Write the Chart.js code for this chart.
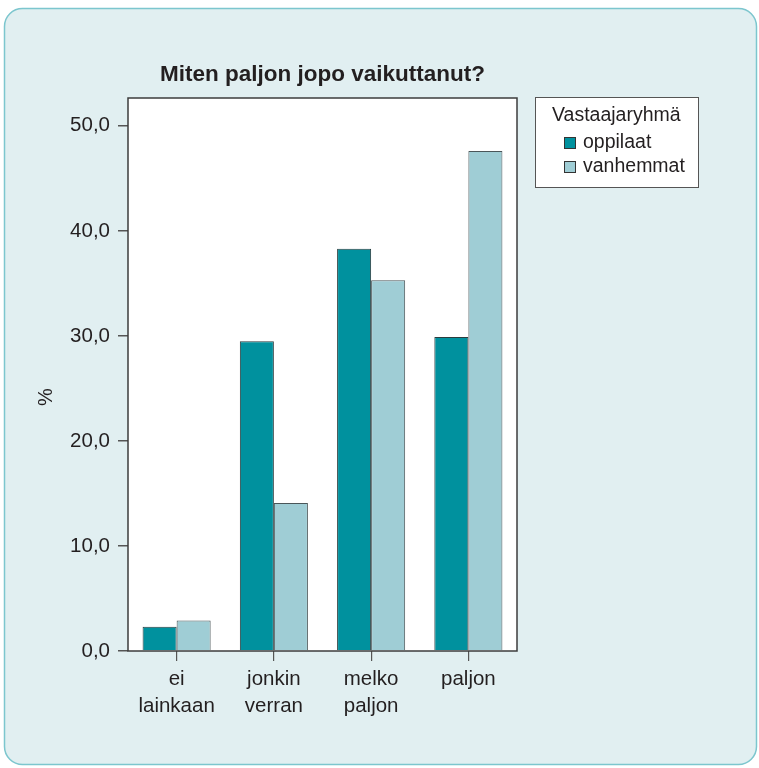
<!DOCTYPE html>
<html>
<head>
<meta charset="utf-8">
<script src="https://cdn.jsdelivr.net/npm/chart.js@4/dist/chart.umd.min.js"></script>
<style>
  html, body { margin: 0; padding: 0; background: #ffffff; }
  #wrap { width: 759px; height: 768px; }
</style>
</head>
<body>
<div id="wrap"><canvas id="c" width="759" height="768"></canvas></div>
<script>
// Response categories (two-line labels) and the share of each respondent group, %
const categories = [["ei", "lainkaan"], ["jonkin", "verran"], ["melko", "paljon"], ["paljon"]];
const oppilaat = [2.3, 29.5, 38.3, 29.9];
const vanhemmat = [2.9, 14.1, 35.3, 47.6];
const yTicks = [0, 10, 20, 30, 40, 50];
const seriesNames = ["oppilaat", "vanhemmat"];
const chartTitle = "Miten paljon jopo vaikuttanut?";
const legendTitle = "Vastaajaryhmä";
const yTitle = "%";

const TEAL = "#00919e";
const LIGHT = "#9fcdd5";
const FONT = "'Liberation Sans', Arial, Helvetica, sans-serif";
const TEXT = "#231f20";

function roundRect(ctx, x, y, w, h, r) {
  ctx.beginPath();
  ctx.moveTo(x + r, y);
  ctx.lineTo(x + w - r, y);
  ctx.arcTo(x + w, y, x + w, y + r, r);
  ctx.lineTo(x + w, y + h - r);
  ctx.arcTo(x + w, y + h, x + w - r, y + h, r);
  ctx.lineTo(x + r, y + h);
  ctx.arcTo(x, y + h, x, y + h - r, r);
  ctx.lineTo(x, y + r);
  ctx.arcTo(x, y, x + r, y, r);
  ctx.closePath();
}

// Panel background, white plot area, frame, title, axis title and legend box
const decor = {
  id: "decor",
  beforeDraw(chart) {
    const ctx = chart.ctx, a = chart.chartArea;
    ctx.save();
    ctx.fillStyle = "#ffffff";
    ctx.fillRect(0, 0, chart.width, chart.height);
    roundRect(ctx, 4.5, 8.5, 752, 756, 18);
    ctx.fillStyle = "#e1eff1";
    ctx.fill();
    ctx.strokeStyle = "#7cc6ce";
    ctx.lineWidth = 1.5;
    ctx.stroke();
    ctx.fillStyle = "#ffffff";
    ctx.fillRect(a.left, a.top, a.right - a.left, a.bottom - a.top);
    ctx.restore();
  },
  afterDatasetsDraw(chart) {
    const ctx = chart.ctx, a = chart.chartArea;
    ctx.save();
    ctx.strokeStyle = "#3c3c3c";
    ctx.lineWidth = 1.5;
    ctx.strokeRect(a.left, a.top, a.right - a.left, a.bottom - a.top);
    ctx.restore();
  },
  afterDraw(chart) {
    const ctx = chart.ctx, a = chart.chartArea;
    ctx.save();
    ctx.fillStyle = TEXT;
    // chart title
    ctx.font = "bold 22.5px " + FONT;
    ctx.textAlign = "center";
    ctx.textBaseline = "middle";
    ctx.fillText(chartTitle, (a.left + a.right) / 2, 75);
    // y axis title
    ctx.save();
    ctx.translate(46, 397);
    ctx.rotate(-Math.PI / 2);
    ctx.font = "20px " + FONT;
    ctx.fillText(yTitle, 0, 0);
    ctx.restore();
    // legend
    const bx = 535.5, by = 97.5, bw = 163, bh = 90;
    ctx.fillStyle = "#ffffff";
    ctx.fillRect(bx, by, bw, bh);
    ctx.strokeStyle = "#555555";
    ctx.lineWidth = 1;
    ctx.strokeRect(bx, by, bw, bh);
    ctx.fillStyle = TEXT;
    ctx.font = "19.5px " + FONT;
    ctx.textAlign = "left";
    ctx.fillText(legendTitle, 552, 116);
    chart.data.datasets.forEach((ds, i) => {
      const cy = 143 + i * 24;
      ctx.fillStyle = ds.backgroundColor;
      ctx.fillRect(564.5, cy - 5.5, 11, 11);
      ctx.strokeStyle = "#333333";
      ctx.strokeRect(564.5, cy - 5.5, 11, 11);
      ctx.fillStyle = TEXT;
      ctx.fillText(ds.label, 583, cy);
    });
    ctx.restore();
  }
};

new Chart(document.getElementById("c"), {
  type: "bar",
  data: {
    labels: categories,
    datasets: [
      { label: seriesNames[0], data: oppilaat, backgroundColor: TEAL, borderColor: "#2b3c3e", borderWidth: 1 },
      { label: seriesNames[1], data: vanhemmat, backgroundColor: LIGHT, borderColor: "#4a5659", borderWidth: 1 }
    ]
  },
  options: {
    responsive: false,
    devicePixelRatio: 1,
    animation: false,
    layout: { padding: { left: 0, top: 98, right: 242, bottom: 0 } },
    datasets: { bar: { categoryPercentage: 0.7, barPercentage: 1.0 } },
    plugins: {
      legend: { display: false },
      title: { display: false },
      tooltip: { enabled: false }
    },
    scales: {
      x: {
        grid: { display: true, drawOnChartArea: false, offset: false, tickLength: 10, color: "#555555", lineWidth: 1.2 },
        border: { display: false },
        ticks: { color: TEXT, font: { family: FONT, size: 20.5, lineHeight: 1.32 }, padding: 5, maxRotation: 0, autoSkip: false },
        afterFit(scale) { scale.height = 117; }
      },
      y: {
        min: 0,
        max: 52.65,
        afterBuildTicks(scale) { scale.ticks = yTicks.map(v => ({ value: v })); },
        grid: { display: true, drawOnChartArea: false, tickLength: 10, color: "#555555", lineWidth: 1.5 },
        border: { display: false },
        ticks: {
          color: TEXT,
          font: { family: FONT, size: 20.5 },
          padding: 8,
          callback: v => v.toFixed(1).replace(".", ",")
        },
        afterFit(scale) { scale.width = 128; }
      }
    }
  },
  plugins: [decor]
});
</script>
</body>
</html>
